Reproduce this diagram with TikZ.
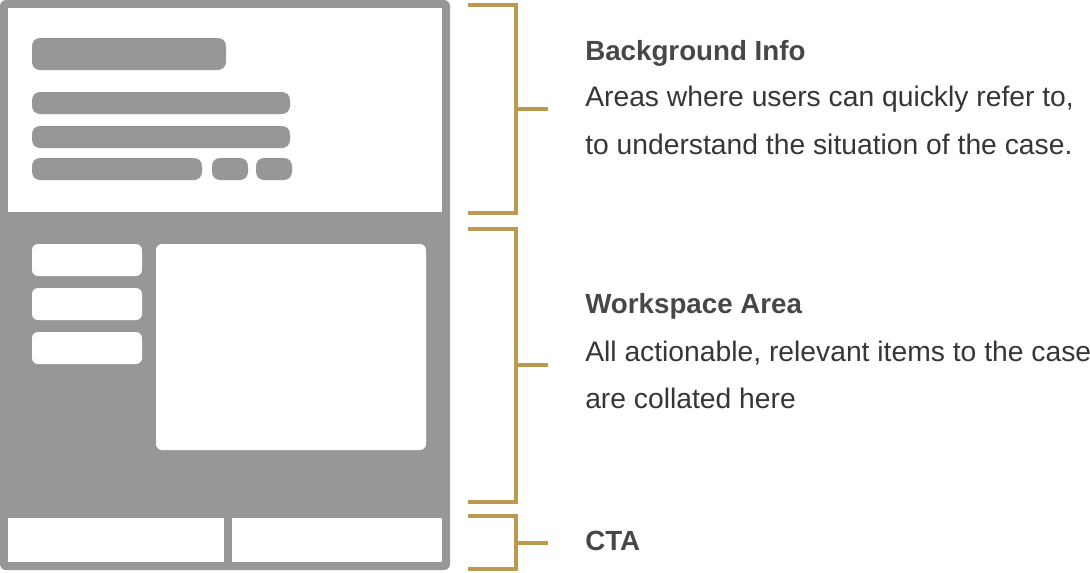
\documentclass[tikz,border=0pt]{standalone}
\usepackage{fontspec}
\setmainfont{Liberation Sans}
\definecolor{framegray}{HTML}{979797}
\definecolor{gold}{HTML}{BD994F}
\definecolor{titlecol}{HTML}{474747}
\definecolor{bodycol}{HTML}{363636}
\tikzset{
  px/.style={x=0.75pt,y=-0.75pt},
  bar/.style={fill=framegray,rounded corners=6pt},
  wbox/.style={fill=white,rounded corners=4.5pt},
  bracketline/.style={draw=gold,line width=3pt,line cap=butt,line join=miter},
  headtxt/.style={anchor=base west,inner sep=0pt,text=titlecol,font=\fontsize{20.8}{21}\selectfont\bfseries},
  bodytxt/.style={anchor=base west,inner sep=0pt,text=bodycol,font=\fontsize{21.2}{21}\selectfont},
}
\begin{document}
\begin{tikzpicture}[px]
\useasboundingbox (0,0) rectangle (1090,572);
% frame
\fill[framegray,rounded corners=4.5pt] (0,0) rectangle (450,570);
\fill[white] (8,8) rectangle (442,212);
% background info bars
\fill[bar] (32,38) rectangle (226,70);
\fill[bar] (32,92) rectangle (290,114);
\fill[bar] (32,126) rectangle (290,148);
\fill[bar] (32,158) rectangle (202,180);
\fill[bar] (212,158) rectangle (248,180);
\fill[bar] (256,158) rectangle (292,180);
% workspace
\fill[wbox] (32,244) rectangle (142,276);
\fill[wbox] (32,288) rectangle (142,320);
\fill[wbox] (32,332) rectangle (142,364);
\fill[wbox] (156,244) rectangle (426,450);
% CTA
\fill[white] (8,518) rectangle (224,562);
\fill[white] (232,518) rectangle (442,562);
% brackets
\coordinate (b1t) at (468,5);   \coordinate (b1b) at (468,213);
\coordinate (b1m) at (516,109); \coordinate (b1e) at (548,109);
\coordinate (b2t) at (468,228.5); \coordinate (b2b) at (468,501.5);
\coordinate (b2m) at (516,365); \coordinate (b2e) at (548,365);
\coordinate (b3t) at (468,516); \coordinate (b3b) at (468,568.5);
\coordinate (b3m) at (516,543); \coordinate (b3e) at (548,543);
\draw[bracketline] (b1t) -- (b1t -| b1m) -- (b1b -| b1m) -- (b1b);
\draw[bracketline] (b1m) -- (b1e);
\draw[bracketline] (b2t) -- (b2t -| b2m) -- (b2b -| b2m) -- (b2b);
\draw[bracketline] (b2m) -- (b2e);
\draw[bracketline] (b3t) -- (b3t -| b3m) -- (b3b -| b3m) -- (b3b);
\draw[bracketline] (b3m) -- (b3e);
% texts
\node[headtxt] (h1) at (585,60) {Background Info};
\node[bodytxt] (t1a) at (585,106) {Areas where users can quickly refer to,};
\node[bodytxt] (t1b) at (585,154) {to understand the situation of the case.};
\node[headtxt] (h2) at (585,313) {Workspace Area};
\node[bodytxt] (t2a) at (585,361) {All actionable, relevant items to the case};
\node[bodytxt] (t2b) at (585,408) {are collated here};
\node[headtxt] (h3) at (585,550) {CTA};
\end{tikzpicture}
\end{document}
